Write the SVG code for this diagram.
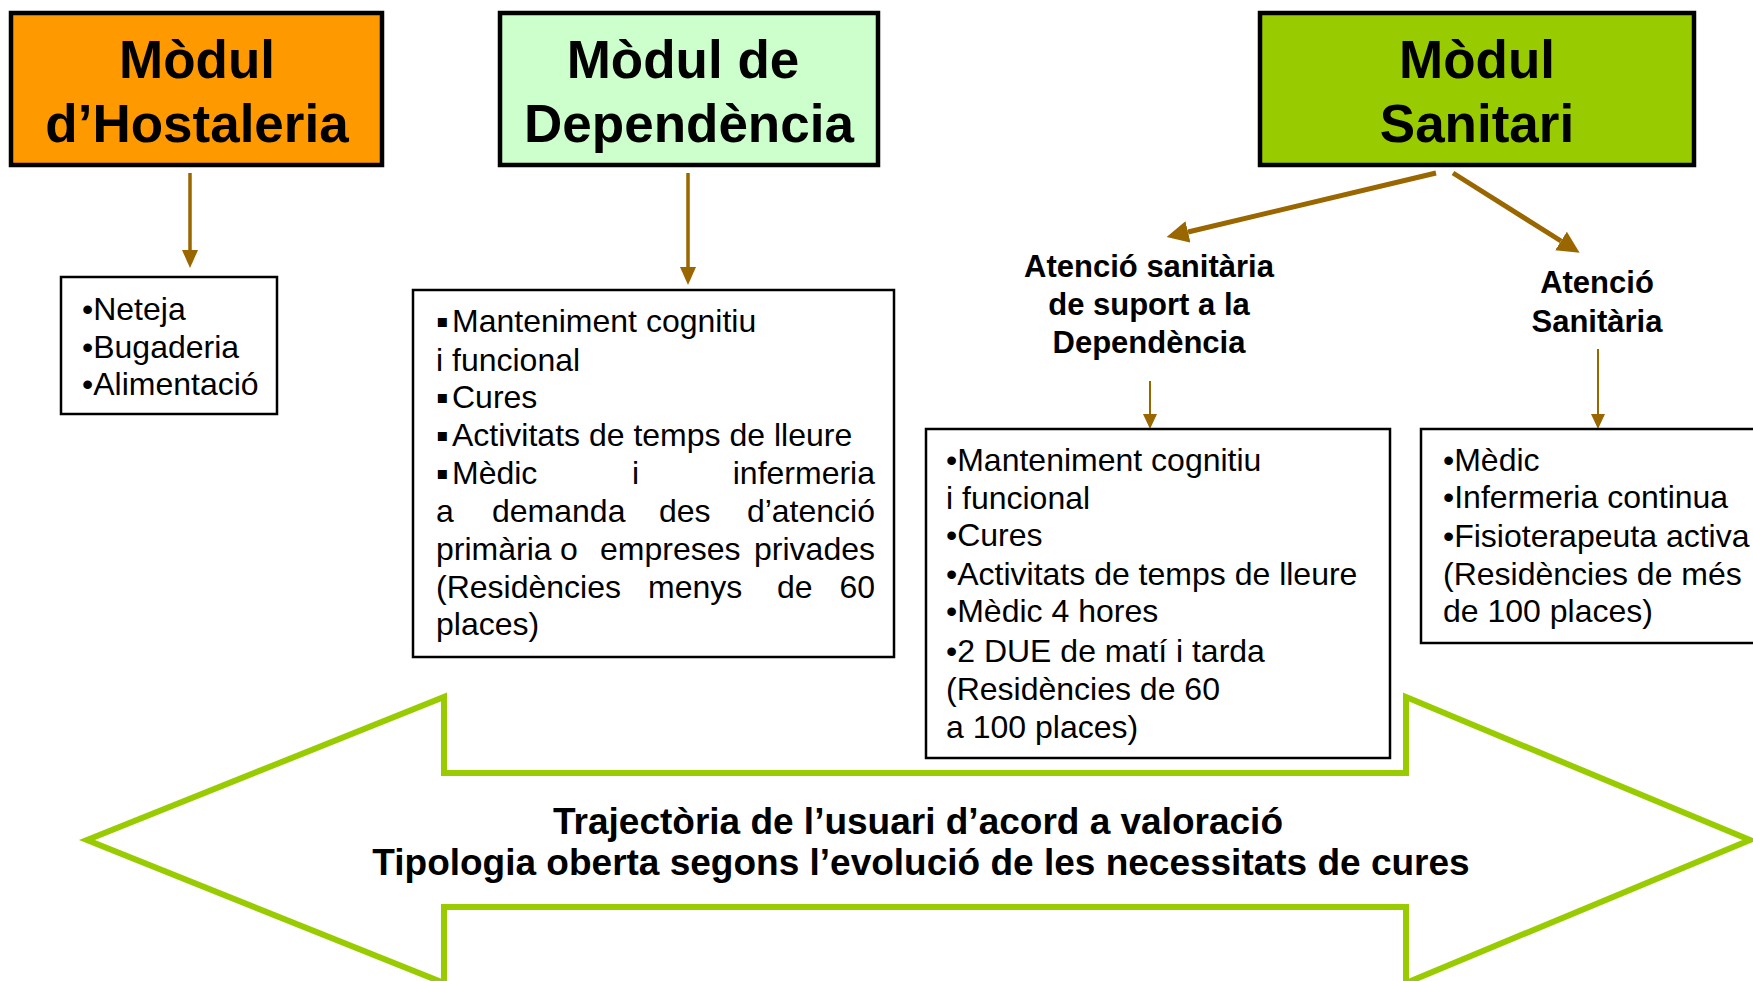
<svg xmlns="http://www.w3.org/2000/svg" width="1753" height="981" viewBox="0 0 1753 981">
<style>
text{font-family:"Liberation Sans",Arial,"DejaVu Sans",sans-serif;fill:#000}
.mod{stroke:#000;stroke-width:4.5}
.title{font-size:53px;font-weight:bold;text-anchor:middle}
.list{fill:#fff;stroke:#000;stroke-width:2.5}
.item{font-size:32px}
.lbl{font-size:31px;font-weight:bold;text-anchor:middle}
.big{font-size:37px;font-weight:bold;text-anchor:middle}
.end{text-anchor:end}
.c1{stroke:#996600;stroke-width:3.5;fill:none}
.c2{stroke:#996600;stroke-width:5;fill:none}
.c3{stroke:#996600;stroke-width:2;fill:none}
.sq{font-family:"DejaVu Sans",sans-serif;font-size:18px}
</style>
<defs>
<marker id="h1" markerUnits="userSpaceOnUse" viewBox="0 0 18 16" markerWidth="18" markerHeight="16" refX="0" refY="8" orient="auto"><path d="M0,0 L18,8 L0,16 z" fill="#996600"/></marker>
<marker id="h2" markerUnits="userSpaceOnUse" viewBox="0 0 22 22" markerWidth="22" markerHeight="22" refX="0" refY="11" orient="auto"><path d="M0,0 L22,11 L0,22 z" fill="#996600"/></marker>
<marker id="h3" markerUnits="userSpaceOnUse" viewBox="0 0 15 14" markerWidth="15" markerHeight="14" refX="0" refY="7" orient="auto"><path d="M0,0 L15,7 L0,14 z" fill="#996600"/></marker>
</defs>

<g id="trajectoria">
<polygon points="87,840 444,697 444,773 1406,773 1406,697 1750,840 1406,983 1406,907 444,907 444,983" fill="#fff" stroke="#99CC00" stroke-width="6"/>
<text class="big" x="918" y="834">Trajectòria de l’usuari d’acord a valoració</text>
<text class="big" x="921" y="875">Tipologia oberta segons l’evolució de les necessitats de cures</text>
</g>

<g id="connectors">
<line class="c1" x1="190" y1="173" x2="190" y2="250" marker-end="url(#h1)"/>
<line class="c1" x1="688" y1="173" x2="688" y2="267" marker-end="url(#h1)"/>
<line class="c2" x1="1436" y1="173" x2="1188" y2="232" marker-end="url(#h2)"/>
<line class="c2" x1="1453" y1="173" x2="1561" y2="241" marker-end="url(#h2)"/>
<line class="c3" x1="1150" y1="381" x2="1150" y2="414" marker-end="url(#h3)"/>
<line class="c3" x1="1598" y1="349" x2="1598" y2="414" marker-end="url(#h3)"/>
</g>

<g id="modul-hostaleria">
<rect class="mod" x="11" y="13" width="371" height="152" fill="#FF9900"/>
<text class="title" x="197" y="78">Mòdul</text>
<text class="title" x="197" y="142">d’Hostaleria</text>
</g>

<g id="modul-dependencia">
<rect class="mod" x="500" y="13" width="378" height="152" fill="#CCFFCC"/>
<text class="title" x="683" y="78">Mòdul de</text>
<text class="title" x="689" y="142">Dependència</text>
</g>

<g id="modul-sanitari">
<rect class="mod" x="1260" y="13" width="434" height="152" fill="#99CC00"/>
<text class="title" x="1477" y="78">Mòdul</text>
<text class="title" x="1477" y="142">Sanitari</text>
</g>

<g id="llista-hostaleria">
<rect class="list" x="61" y="277" width="216" height="137"/>
<text class="item" x="82" y="320">•Neteja</text>
<text class="item" x="82" y="358">•Bugaderia</text>
<text class="item" x="82" y="395">•Alimentació</text>
</g>

<g id="llista-dependencia">
<rect class="list" x="413" y="290" width="481" height="367"/>
<text class="item" y="332"><tspan class="sq" x="436" dy="-5">▪</tspan><tspan x="452" dy="5">Manteniment cognitiu</tspan></text>
<text class="item" x="436" y="371">i funcional</text>
<text class="item" y="408"><tspan class="sq" x="436" dy="-5">▪</tspan><tspan x="452" dy="5">Cures</tspan></text>
<text class="item" y="446"><tspan class="sq" x="436" dy="-5">▪</tspan><tspan x="452" dy="5">Activitats de temps de lleure</tspan></text>
<text class="item" y="484"><tspan class="sq" x="436" dy="-5">▪</tspan><tspan x="452" dy="5">Mèdic</tspan><tspan x="632">i</tspan></text>
<text class="item end" x="875" y="484">infermeria</text>
<text class="item" y="522"><tspan x="436">a</tspan><tspan x="492">demanda</tspan><tspan x="659">des</tspan></text>
<text class="item end" x="875" y="522">d’atenció</text>
<text class="item" y="560"><tspan x="436">primària</tspan><tspan x="560">o</tspan><tspan x="600">empreses</tspan></text>
<text class="item end" x="875" y="560">privades</text>
<text class="item" y="598"><tspan x="436">(Residències</tspan><tspan x="648">menys</tspan><tspan x="777">de</tspan></text>
<text class="item end" x="875" y="598">60</text>
<text class="item" x="436" y="635">places)</text>
</g>

<g id="atencio-suport">
<text class="lbl" x="1149" y="277">Atenció sanitària</text>
<text class="lbl" x="1149" y="315">de suport a la</text>
<text class="lbl" x="1149" y="353">Dependència</text>
</g>

<g id="atencio-sanitaria">
<text class="lbl" x="1597" y="293">Atenció</text>
<text class="lbl" x="1597" y="332">Sanitària</text>
</g>

<g id="llista-suport">
<rect class="list" x="926" y="429" width="464" height="329"/>
<text class="item" x="946" y="471">•Manteniment cognitiu</text>
<text class="item" x="946" y="509">i funcional</text>
<text class="item" x="946" y="546">•Cures</text>
<text class="item" x="946" y="585">•Activitats de temps de lleure</text>
<text class="item" x="946" y="622">•Mèdic 4 hores</text>
<text class="item" x="946" y="662">•2 DUE de matí i tarda</text>
<text class="item" x="946" y="700">(Residències de 60</text>
<text class="item" x="946" y="738">a 100 places)</text>
</g>

<g id="llista-sanitaria">
<rect class="list" x="1421" y="429" width="400" height="214"/>
<text class="item" x="1443" y="471">•Mèdic</text>
<text class="item" x="1443" y="508">•Infermeria continua</text>
<text class="item" x="1443" y="547">•Fisioterapeuta activa</text>
<text class="item" x="1443" y="585">(Residències de més</text>
<text class="item" x="1443" y="622">de 100 places)</text>
</g>
</svg>
